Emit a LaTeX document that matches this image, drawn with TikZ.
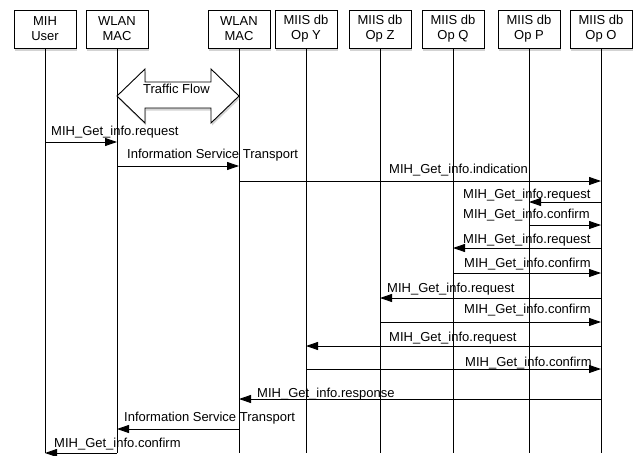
\documentclass[tikz,border=0pt]{standalone}
\usepackage{fontspec}
\setmainfont{Liberation Sans}
\usetikzlibrary{arrows.meta,shadows}
\tikzset{
    tete/.style={draw,fill=white,line width=0.9pt,minimum width=62pt,minimum height=38pt,align=center,
      drop shadow={opacity=0.35,shadow xshift=1pt,shadow yshift=-2.5pt}},
    vie/.style={line width=0.9pt},
    msg/.style={line width=0.9pt,-{Triangle[length=12pt,width=8pt]}},
    lbl/.style={anchor=base west,inner sep=0pt},
  }
\begin{document}
\begin{tikzpicture}[x=1pt,y=-1pt,font=\fontsize{13}{15}\selectfont]
				  %entites en haut
				  %ligne de vie : (n.south) -- (n |- 0,453)
				  \useasboundingbox (0,0) rectangle (639,455);
				  \node[tete] (user) at (45,29) {MIH\\User};
				  \node[tete] (maca) at (117,29) {WLAN\\MAC};
				  \node[tete] (macb) at (239,29) {WLAN\\MAC};
				  \node[tete] (opy) at (306,29) {MIIS db\\Op Y};
				  \node[tete] (opz) at (380,29) {MIIS db\\Op Z};
				  \node[tete] (opq) at (453,29) {MIIS db\\Op Q};
				  \node[tete] (opp) at (529,29) {MIIS db\\Op P};
				  \node[tete] (opo) at (601,29) {MIIS db\\Op O};

				  \foreach \n in {user,maca,macb,opy,opz,opq,opp,opo}
				    \draw[vie] (\n.south) -- (\n |- 0,453);

				  %fleche double
				  \coordinate (FA) at (maca |- 0,96);
				  \coordinate (FB) at (macb |- 0,96);
				  \draw[line width=0.9pt,fill=white,drop shadow={opacity=0.35,shadow xshift=1pt,shadow yshift=-2.5pt}]
				    (FA) -- ++(28,-27) -- ++(0,13) -- (211,82) -- (211,69) -- (FB) -- (211,123) -- (211,108) -- (145,108) -- (145,123) -- cycle;
				  \node[lbl] (flow) at (143,93.5) {Traffic Flow};

				  \draw[msg] (user |- 0,142) -- (maca |- 0,142);
				  \node[lbl] (m1) at (51,135) {MIH\_Get\_info.request};
				  \draw[msg] (maca |- 0,166) -- (macb |- 0,166);
				  \node[lbl] (m2) at (127,158) {Information Service Transport};
				  \draw[msg] (macb |- 0,181) -- (opo |- 0,181);
				  \node[lbl] (m3) at (389,173) {MIH\_Get\_info.indication};
				  \draw[msg] (opo |- 0,202) -- (opp |- 0,202);
				  \node[lbl] (m4) at (463,198) {MIH\_Get\_info.request};
				  \draw[msg] (opp |- 0,225) -- (opo |- 0,225);
				  \node[lbl] (m5) at (463,218) {MIH\_Get\_info.confirm};
				  \draw[msg] (opo |- 0,248) -- (opq |- 0,248);
				  \node[lbl] (m6) at (463,243) {MIH\_Get\_info.request};
				  \draw[msg] (opq |- 0,273) -- (opo |- 0,273);
				  \node[lbl] (m7) at (464,267) {MIH\_Get\_info.confirm};
				  \draw[msg] (opo |- 0,298) -- (opz |- 0,298);
				  \node[lbl] (m8) at (387,292) {MIH\_Get\_info.request};
				  \draw[msg] (opz |- 0,322) -- (opo |- 0,322);
				  \node[lbl] (m9) at (464,313) {MIH\_Get\_info.confirm};
				  \draw[msg] (opo |- 0,346) -- (opy |- 0,346);
				  \node[lbl] (m10) at (389,341) {MIH\_Get\_info.request};
				  \draw[msg] (opy |- 0,369) -- (opo |- 0,369);
				  \node[lbl] (m11) at (465,366) {MIH\_Get\_info.confirm};
				  \draw[msg] (opo |- 0,399) -- (macb |- 0,399);
				  \node[lbl] (m12) at (257,397) {MIH\_Get\_info.response};
				  \draw[msg] (macb |- 0,429) -- (maca |- 0,429);
				  \node[lbl] (m13) at (124,421) {Information Service Transport};
				  \draw[msg] (maca |- 0,453) -- (user |- 0,453);
				  \node[lbl] (m14) at (54,447) {MIH\_Get\_info.confirm};
\end{tikzpicture}
\end{document}
